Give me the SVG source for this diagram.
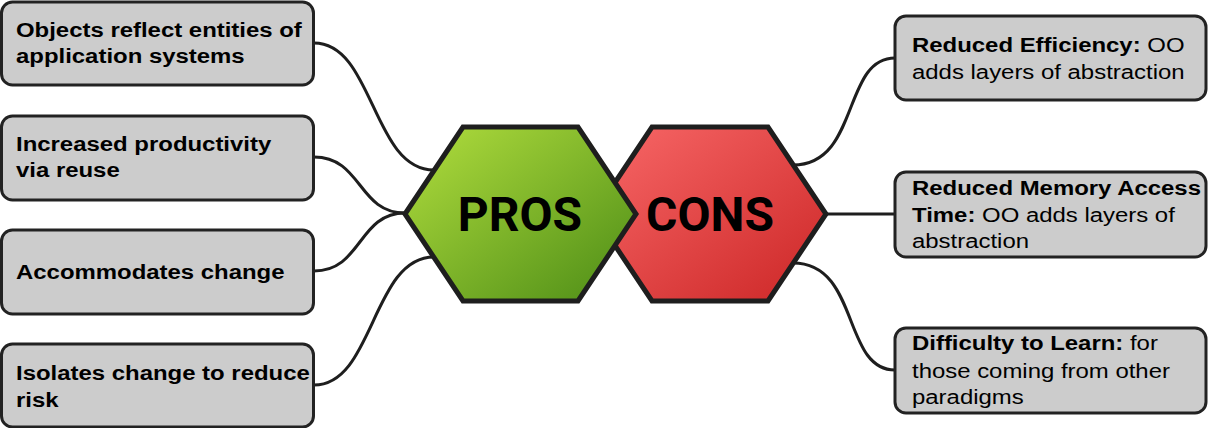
<svg xmlns="http://www.w3.org/2000/svg" width="1208" height="428" viewBox="0 0 1208 428">
<style>
.box{fill:#cccccc;stroke:#222;stroke-width:3}
.hex{stroke:#1e1e1e;stroke-width:5;stroke-linejoin:miter}
.conn{fill:none;stroke:#1e1e1e;stroke-width:3}
.t{font-family:"Liberation Sans",Arial,sans-serif;font-size:21px;fill:#000}
.b{font-weight:bold}
.big{font-family:Roboto,"Liberation Sans",sans-serif;font-size:48px;font-weight:bold;fill:#000;text-anchor:middle}
</style>
<defs>
<linearGradient id="gPros" x1="0" y1="0" x2="1" y2="1">
<stop offset="0" stop-color="#b2de3e"/>
<stop offset="1" stop-color="#4c8c16"/>
</linearGradient>
<linearGradient id="gCons" x1="0" y1="0" x2="1" y2="1">
<stop offset="0" stop-color="#f86868"/>
<stop offset="1" stop-color="#cc2626"/>
</linearGradient>
</defs>
<g id="connectors">
<path class="conn" d="M314,43 C374,43 372,170 434,170"/>
<path class="conn" d="M314,157 C362,157 358,213 405,213"/>
<path class="conn" d="M314,271 C362,271 358,213 405,213"/>
<path class="conn" d="M314,385 C374,385 372,257 434,257"/>
<path class="conn" d="M793,165 C860,165 842,58 895,58"/>
<path class="conn" d="M826,214 L895,214"/>
<path class="conn" d="M793,263 C860,263 842,370 895,370"/>
</g>
<g id="cons">
<polygon class="hex" fill="url(#gCons)" points="594,214 652,127 768,127 826,214 768,301 652,301"/>
<text class="big" x="710" y="231">CONS</text>
</g>
<g id="pros">
<polygon class="hex" fill="url(#gPros)" points="405,214 463,127 578,127 636,214 578,301 463,301"/>
<text class="big" x="520" y="231">PROS</text>
</g>
<g id="p1">
<rect class="box" x="1.5" y="2" width="312" height="83" rx="11"/>
<g transform="translate(16,0) scale(1.14,1)">
<text class="t b" x="0" y="37">Objects reflect entities of</text>
<text class="t b" x="0" y="63">application systems</text>
</g>
</g>
<g id="p2">
<rect class="box" x="1.5" y="116" width="312" height="84" rx="11"/>
<g transform="translate(16,0) scale(1.14,1)">
<text class="t b" x="0" y="151">Increased productivity</text>
<text class="t b" x="0" y="177">via reuse</text>
</g>
</g>
<g id="p3">
<rect class="box" x="1.5" y="230" width="312" height="84" rx="11"/>
<g transform="translate(16,0) scale(1.14,1)">
<text class="t b" x="0" y="279">Accommodates change</text>
</g>
</g>
<g id="p4">
<rect class="box" x="1.5" y="344" width="312" height="83" rx="11"/>
<g transform="translate(16,0) scale(1.14,1)">
<text class="t b" x="0" y="380">Isolates change to reduce</text>
<text class="t b" x="0" y="407">risk</text>
</g>
</g>
<g id="c1">
<rect class="box" x="895" y="16" width="311" height="84" rx="11"/>
<g transform="translate(912,0) scale(1.14,1)">
<text class="t" x="0" y="52"><tspan class="b">Reduced Efficiency:</tspan> OO</text>
<text class="t" x="0" y="79">adds layers of abstraction</text>
</g>
</g>
<g id="c2">
<rect class="box" x="895" y="172" width="311" height="85" rx="11"/>
<g transform="translate(912,0) scale(1.14,1)">
<text class="t" x="0" y="195"><tspan class="b">Reduced Memory Access</tspan></text>
<text class="t" x="0" y="222"><tspan class="b">Time:</tspan> OO adds layers of</text>
<text class="t" x="0" y="248">abstraction</text>
</g>
</g>
<g id="c3">
<rect class="box" x="895" y="328" width="311" height="85" rx="11"/>
<g transform="translate(912,0) scale(1.14,1)">
<text class="t" x="0" y="350"><tspan class="b">Difficulty to Learn:</tspan> for</text>
<text class="t" x="0" y="378">those coming from other</text>
<text class="t" x="0" y="404">paradigms</text>
</g>
</g>
</svg>
